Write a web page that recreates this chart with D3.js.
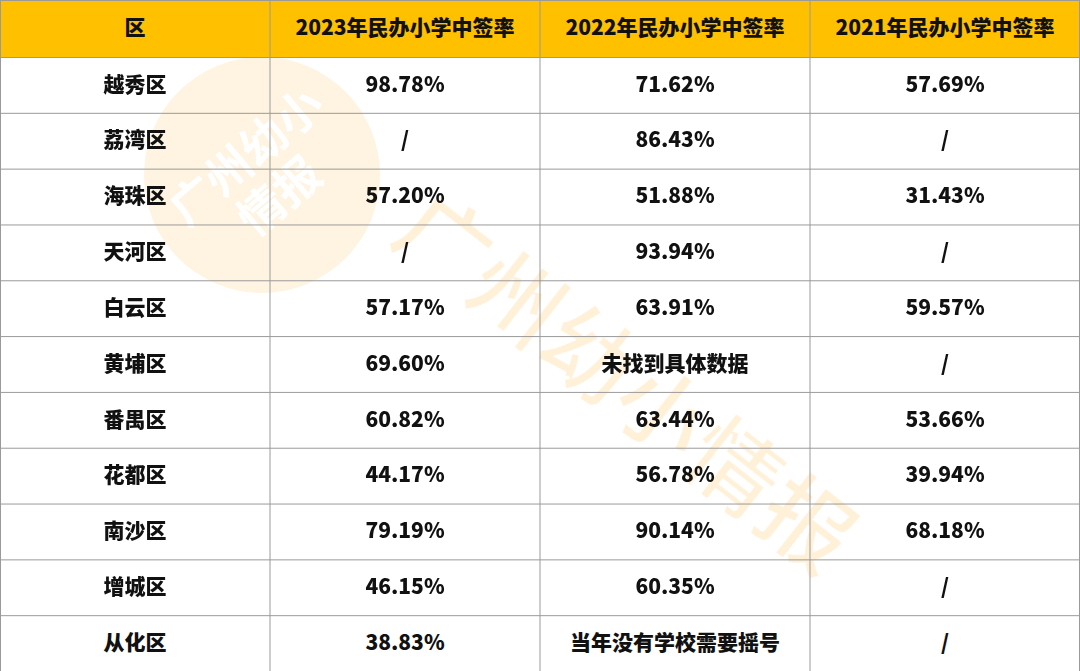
<!DOCTYPE html>
<html><head><meta charset="utf-8">
<script src="https://cdn.jsdelivr.net/npm/d3@7"></script>
<style>body{margin:0;background:#fff}svg{display:block}</style>
</head><body><svg id="c" width="1080" height="671"></svg>
<script>
const headers = ["区","2023年民办小学中签率","2022年民办小学中签率","2021年民办小学中签率"];
const districts = ["越秀区","荔湾区","海珠区","天河区","白云区","黄埔区","番禺区","花都区","南沙区","增城区","从化区"];
const rate2023 = ["98.78%","/","57.20%","/","57.17%","69.60%","60.82%","44.17%","79.19%","46.15%","38.83%"];
const rate2022 = ["71.62%","86.43%","51.88%","93.94%","63.91%","未找到具体数据","63.44%","56.78%","90.14%","60.35%","当年没有学校需要摇号"];
const rate2021 = ["57.69%","/","31.43%","/","59.57%","/","53.66%","39.94%","68.18%","/","/"];

const W=1080,H=671,headH=57;
const svg=d3.select("#c");
const x=d3.scaleBand().domain(d3.range(4)).range([0,W]);
const y=d3.scaleBand().domain(d3.range(districts.length)).range([headH,H]);
const font="'Noto Sans CJK SC','Noto Sans',sans-serif";

svg.append("rect").attr("width",W).attr("height",headH).attr("fill","#FFC000");
svg.selectAll("text.h").data(headers).join("text")
 .attr("x",(d,i)=>x(i)+x.bandwidth()/2).attr("y",headH/2+1)
 .attr("text-anchor","middle").attr("dominant-baseline","middle")
 .attr("font-family",font).attr("font-weight",900).attr("font-size",21).attr("fill","#111").text(d=>d);

// watermark
const wm=svg.append("g").attr("opacity",0.2);
wm.append("circle").attr("cx",262).attr("cy",175).attr("r",118).attr("fill","#FFC56B");
wm.append("text").attr("transform","translate(262,175) rotate(-40)").attr("text-anchor","middle")
 .attr("font-family",font).attr("font-weight","bold").attr("font-size",46).attr("fill","#fff")
 .selectAll("tspan").data(["广州幼小","情报"]).join("tspan").attr("x",0).attr("dy",(d,i)=>i?52:-8).text(d=>d);
wm.append("text").attr("transform","translate(620,390) rotate(38)").attr("text-anchor","middle")
 .attr("dominant-baseline","middle")
 .attr("font-family",font).attr("font-weight","bold").attr("font-size",92).attr("fill","#FFB23F")
 .attr("stroke","#fff").attr("stroke-width",3).text("广州幼小情报");

const rows=districts.map((d,i)=>[d,rate2023[i],rate2022[i],rate2021[i]]);
const g=svg.selectAll("g.r").data(rows).join("g").attr("transform",(d,i)=>`translate(0,${y(i)})`);
g.selectAll("text").data(d=>d).join("text")
 .attr("x",(d,i)=>x(i)+x.bandwidth()/2).attr("y",y.bandwidth()/2+1)
 .attr("text-anchor","middle").attr("dominant-baseline","middle")
 .attr("font-family",font).attr("font-weight",900).attr("font-size",21).attr("fill","#111").text(d=>d);

// grid
const lines=svg.append("g").attr("stroke","#9a9a9a").attr("stroke-width",1);
[headH,...districts.map((d,i)=>y(i)+y.bandwidth())].forEach(v=>lines.append("line").attr("x1",0).attr("x2",W).attr("y1",v+0.5).attr("y2",v+0.5));
lines.append("line").attr("x1",0).attr("x2",W).attr("y1",0.5).attr("y2",0.5);
d3.range(5).forEach(i=>{const v=i<4?x(i):W;const xx=Math.min(Math.max(v,0.5),W-0.5);lines.append("line").attr("x1",xx).attr("x2",xx).attr("y1",0).attr("y2",H);});
</script></body></html>
